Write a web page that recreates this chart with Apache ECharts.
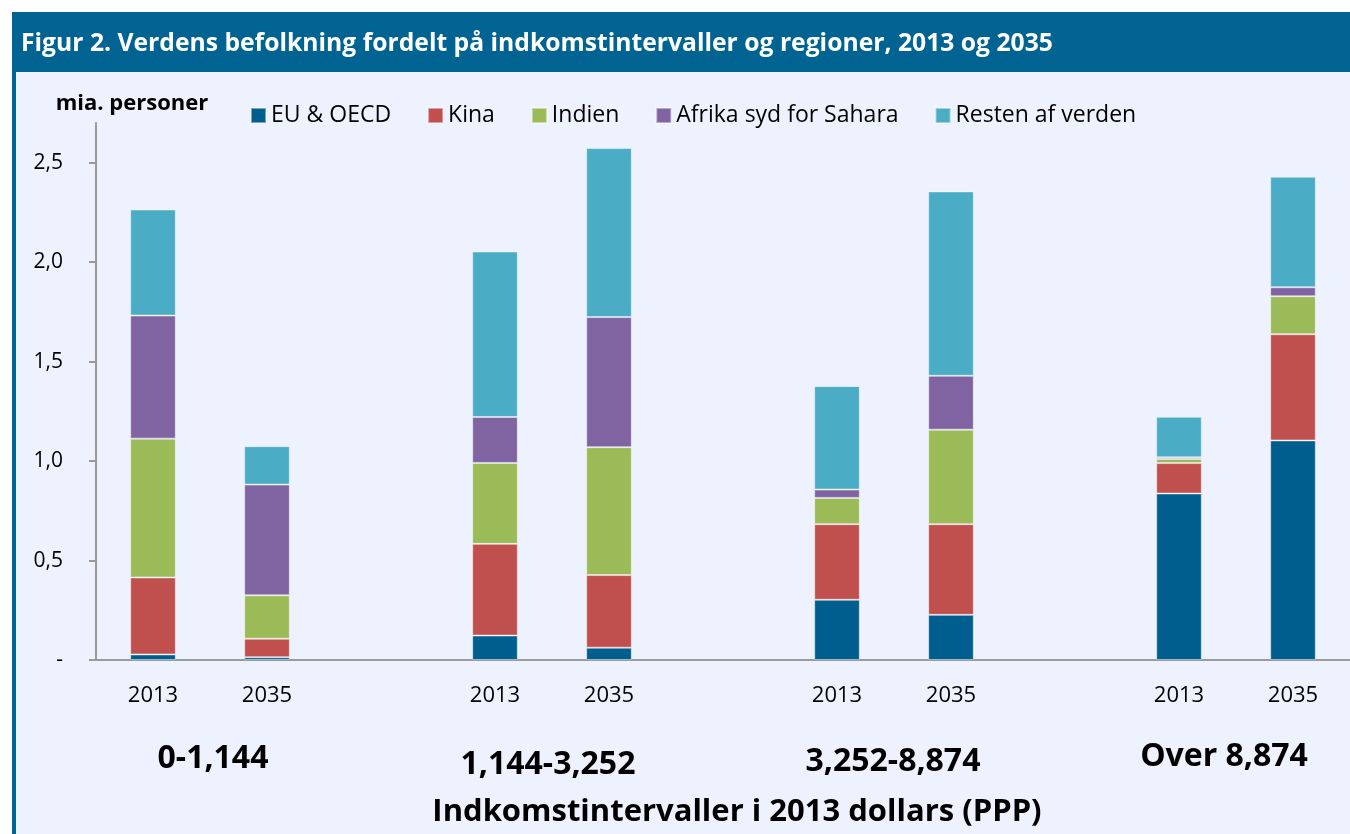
<!DOCTYPE html>
<html>
<head>
<meta charset="utf-8">
<script src="https://cdn.jsdelivr.net/npm/echarts@6/dist/echarts.min.js"></script>
<style>
html,body{margin:0;padding:0;background:#ffffff;}
#chart{width:1350px;height:834px;}
</style>
</head>
<body>
<div id="chart"></div>
<script>
const categories = ['2013','2035','','2013','2035','','2013','2035','','2013','2035'];
const groupLabels = ['0-1,144','1,144-3,252','3,252-8,874','Over 8,874'];
const groupCenters = [0.5, 3.5, 6.5, 9.5];
const seriesNames = ['EU & OECD','Kina','Indien','Afrika syd for Sahara','Resten af verden'];
const euOecd  = [0.028, 0.014, null, 0.123, 0.062, null, 0.303, 0.227, null, 0.837, 1.104];
const kina    = [0.387, 0.093, null, 0.461, 0.365, null, 0.380, 0.456, null, 0.153, 0.534];
const indien  = [0.698, 0.218, null, 0.407, 0.643, null, 0.132, 0.475, null, 0.021, 0.191];
const afrika  = [0.619, 0.557, null, 0.231, 0.654, null, 0.042, 0.271, null, 0.008, 0.045];
const resten  = [0.533, 0.193, null, 0.832, 0.850, null, 0.520, 0.927, null, 0.204, 0.556];
const yTicks = [0, 0.5, 1.0, 1.5, 2.0, 2.5];

const colors = ['#005E8E','#C0504D','#9BBB59','#8064A2','#4BACC6'];
const FONT = '"Open Sans", Lato, sans-serif';
const dataSets = [euOecd, kina, indien, afrika, resten];

const groupRich = {
  g0: {fontSize: 32, fontWeight: 'bold', color: '#000', fontFamily: FONT, padding: [2, 0, 0, 6]},
  g1: {fontSize: 32, fontWeight: 'bold', color: '#000', fontFamily: FONT, padding: [8, 8, 0, 0]},
  g2: {fontSize: 32, fontWeight: 'bold', color: '#000', fontFamily: FONT, padding: [5, 2, 0, 0]},
  g3: {fontSize: 32, fontWeight: 'bold', color: '#000', fontFamily: FONT, padding: [0, 24, 0, 0]}
};

const chart = echarts.init(document.getElementById('chart'), null, {renderer:'canvas'});
chart.setOption({
  animation: false,
  textStyle: {fontFamily: FONT, color: '#000'},
  graphic: [
    {type:'rect', z:-10, shape:{x:16, y:72, width:1334, height:762}, style:{fill:'#EEF2FE'}},
    {type:'rect', z:-10, shape:{x:12, y:12, width:1338, height:60}, style:{fill:'#006392'}},
    {type:'rect', z:-10, shape:{x:12, y:12, width:4, height:822}, style:{fill:'#006392'}}
  ],
  title: {
    text: 'Figur 2. Verdens befolkning fordelt på indkomstintervaller og regioner, 2013 og 2035',
    left: 21, top: 31,
    padding: 0,
    textStyle: {color:'#ffffff', fontSize: 24.7, fontWeight: 'bold', fontFamily: FONT}
  },
  legend: {
    data: seriesNames,
    left: 245, top: 99,
    icon: 'rect', itemWidth: 15, itemHeight: 15, itemGap: 36,
    textStyle: {fontSize: 23, color:'#000', fontFamily: FONT}
  },
  grid: {left: 96, right: 0, top: 123, bottom: 174, containLabel: false},
  xAxis: [
    {
      type: 'category',
      data: categories,
      axisLine: {lineStyle: {color:'#9A9A9A', width: 2}},
      axisTick: {length: 9, lineStyle: {color:'#9A9A9A', width: 2}},
      axisLabel: {fontSize: 22, color:'#000', margin: 25, interval: 0, fontFamily: FONT}
    },
    {
      type: 'value',
      position: 'bottom',
      offset: 76,
      min: -0.5, max: 10.5,
      axisLine: {show: false, onZero: false},
      axisTick: {show: false},
      splitLine: {show: false},
      axisLabel: {
        customValues: groupCenters,
        margin: 5,
        rich: groupRich,
        formatter: function (v) {
          const i = groupCenters.indexOf(v);
          return i >= 0 ? '{g' + i + '|' + groupLabels[i] + '}' : '';
        }
      },
      name: 'Indkomstintervaller i 2013 dollars (PPP)',
      nameLocation: 'middle',
      nameGap: 61,
      nameTextStyle: {fontSize: 31, fontWeight: 'bold', color:'#000', fontFamily: FONT, padding: [0, 0, 0, 28]}
    }
  ],
  yAxis: {
    type: 'value',
    min: 0, max: 2.7,
    name: 'mia. personer',
    nameLocation: 'end',
    nameGap: 8,
    nameTextStyle: {fontSize: 22, fontWeight: 'bold', color:'#000', align:'center', padding:[0,0,0,72], fontFamily: FONT},
    axisLine: {show: true, onZero: false, lineStyle: {color:'#9A9A9A', width: 2}},
    axisTick: {show: true, length: 7, customValues: yTicks, lineStyle: {color:'#9A9A9A', width: 2}},
    splitLine: {show: false},
    axisLabel: {
      customValues: yTicks,
      fontSize: 21, color:'#000', margin: 33, fontFamily: FONT,
      formatter: function (v) { return v === 0 ? '-' : v.toFixed(1).replace('.', ','); }
    }
  },
  series: seriesNames.map(function (name, i) {
    return {
      name: name,
      type: 'bar',
      stack: 'total',
      barWidth: '40%',
      data: dataSets[i],
      itemStyle: {color: colors[i], borderColor: 'rgba(255,255,255,0.45)', borderWidth: 1}
    };
  })
});
</script>
</body>
</html>
